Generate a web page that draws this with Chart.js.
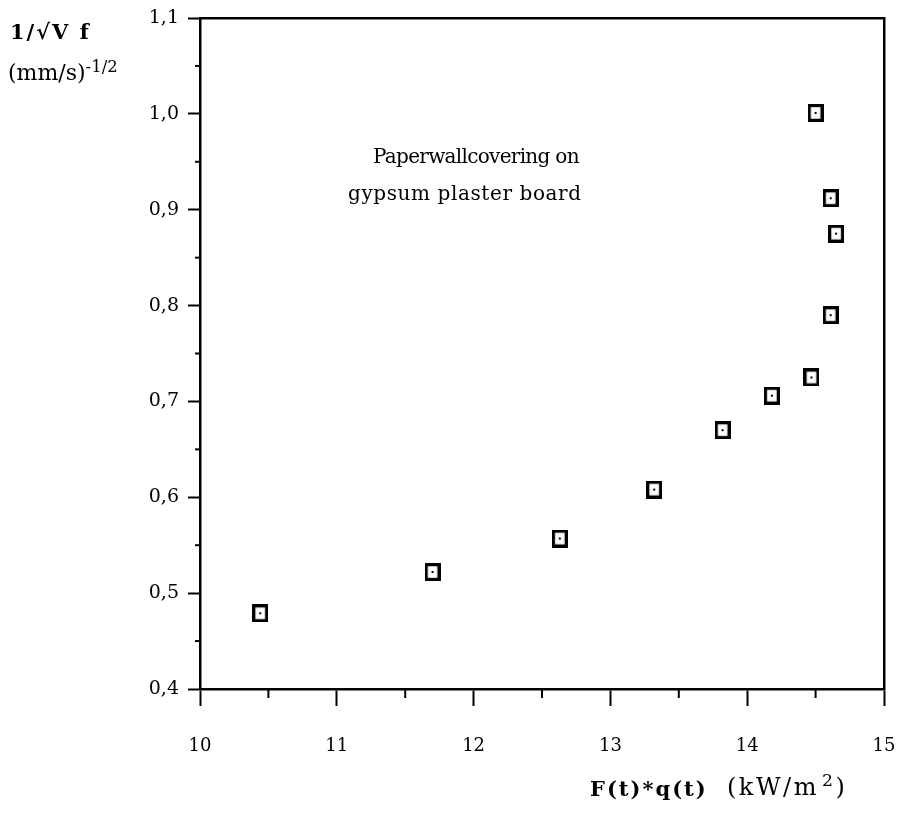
<!DOCTYPE html>
<html>
<head>
<meta charset="utf-8">
<script src="https://cdn.jsdelivr.net/npm/chart.js@4"></script>
<style>
  body { margin: 0; background: #fff; }
  #wrap { position: relative; width: 900px; height: 816px; }
  .lbl { position: absolute; font-family: "DejaVu Serif", "Liberation Serif", serif; color: #000; white-space: nowrap; }
  .b { font-weight: bold; }
  sup { font-size: 0.72em; }
</style>
</head>
<body>
<div id="wrap">
  <canvas id="myChart" width="900" height="816"></canvas>
  <div class="lbl b" style="left:10px; top:19px; font-size:21px; letter-spacing:2px;">1/√V f</div>
  <div class="lbl" style="left:8px; top:57px; font-size:22px;">(mm/s)<sup style="font-size:0.75em;">-1/2</sup></div>
  <div class="lbl" style="left:373px; top:144px; font-size:20px; letter-spacing:-0.7px;">Paperwallcovering on</div>
  <div class="lbl" style="left:348px; top:181px; font-size:20px; letter-spacing:0.6px;">gypsum plaster board</div>
  <div class="lbl b" style="left:590px; top:776px; font-size:21px; letter-spacing:2px;">F(t)*q(t)</div>
  <div class="lbl" style="left:727px; top:770px; font-size:24px; letter-spacing:2.5px;">(kW/m<sup style="margin-left:3px;">2</sup>)</div>
</div>
<script>
// values
const heatFlux = [10.44, 11.70, 12.63, 13.32, 13.82, 14.18, 14.47, 14.50, 14.61, 14.65, 14.61];
const invSqrtVf = [0.479, 0.522, 0.557, 0.608, 0.670, 0.706, 0.725, 1.001, 0.912, 0.875, 0.790];
const xTicks = [10, 11, 12, 13, 14, 15];
const yTicks = [0.4, 0.5, 0.6, 0.7, 0.8, 0.9, 1.0, 1.1];
const xMinor = [10.5, 11.5, 12.5, 13.5, 14.5];
const yMinor = [0.45, 0.55, 0.65, 0.75, 0.85, 0.95, 1.05];

const container = document.getElementById('myChart');

// open square with a dot in the middle
const marker = (() => {
    const c = document.createElement('canvas');
    c.width = 16; c.height = 18;
    const g = c.getContext('2d');
    g.strokeStyle = '#000';
    g.lineWidth = 3.2;
    g.strokeRect(1.6, 1.6, 12.8, 14.8);
    g.fillStyle = '#000';
    g.fillRect(7, 8, 2, 2);
    return c;
})();

const minorTicks = {
    id: 'minorTicks',
    afterDraw(chart) {
        const { ctx, chartArea, scales } = chart;
        ctx.save();
        ctx.strokeStyle = '#000';
        ctx.lineWidth = 2;
        xMinor.forEach(v => {
            const px = scales.x.getPixelForValue(v);
            ctx.beginPath();
            ctx.moveTo(px, chartArea.bottom);
            ctx.lineTo(px, chartArea.bottom + 9);
            ctx.stroke();
        });
        yMinor.forEach(v => {
            const py = scales.y.getPixelForValue(v);
            ctx.beginPath();
            ctx.moveTo(chartArea.left, py);
            ctx.lineTo(chartArea.left - 5, py);
            ctx.stroke();
        });
        ctx.restore();
    }
};

const frameAxis = (pos) => ({
    type: 'linear',
    position: pos,
    display: true,
    ticks: { display: false },
    grid: { drawOnChartArea: false, drawTicks: false },
    border: { color: '#000', width: 2.5 },
    afterFit: s => {
        if (pos === 'top') s.height = 0; else s.width = 0;
        s.paddingLeft = s.paddingRight = s.paddingTop = s.paddingBottom = 0;
    }
});

const chart = new Chart(container, {
    type: 'scatter',
    data: {
        datasets: [{
            data: heatFlux.map((x, i) => ({ x, y: invSqrtVf[i] })),
            pointStyle: marker,
            pointRadius: 8,
            pointHoverRadius: 8
        }]
    },
    options: {
        responsive: false,
        animation: false,
        layout: { padding: { top: 18, right: 16, left: 0, bottom: 0 } },
        plugins: { legend: { display: false }, tooltip: { enabled: false } },
        scales: {
            x: {
                type: 'linear',
                min: 10, max: 15,
                afterBuildTicks: s => { s.ticks = xTicks.map(value => ({ value })); },
                ticks: {
                    color: '#000',
                    padding: 30,
                    font: { family: 'DejaVu Serif', size: 18 }
                },
                grid: { drawOnChartArea: false, tickLength: 17, tickWidth: 2, tickColor: '#000' },
                border: { color: '#000', width: 2.5 },
                afterFit: s => { s.height = 127; s.paddingLeft = 0; s.paddingRight = 0; }
            },
            y: {
                type: 'linear',
                min: 0.4, max: 1.1,
                afterBuildTicks: s => { s.ticks = yTicks.map(value => ({ value })); },
                ticks: {
                    color: '#000',
                    padding: 9,
                    font: { family: 'DejaVu Serif', size: 19 },
                    callback: v => v.toFixed(1).replace('.', ',')
                },
                grid: { drawOnChartArea: false, tickLength: 12, tickWidth: 2, tickColor: '#000' },
                border: { color: '#000', width: 2.5 },
                afterFit: s => { s.width = 200; s.paddingTop = 0; s.paddingBottom = 0; }
            },
            x2: frameAxis('top'),
            y2: frameAxis('right')
        }
    },
    plugins: [minorTicks]
});
</script>
</body>
</html>
